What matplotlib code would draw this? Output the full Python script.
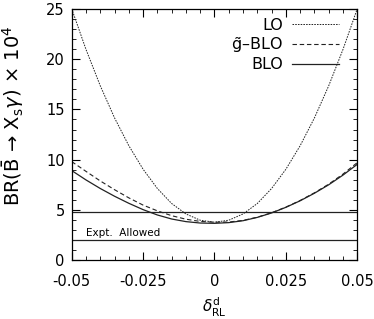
#!/usr/bin/env python3
# -*- coding: utf-8 -*-

import matplotlib
matplotlib.use("Agg")
import matplotlib.pyplot as plt
from matplotlib.ticker import MultipleLocator, FixedLocator, FixedFormatter

plt.rcParams.update(
    {
        "font.family": "DejaVu Sans",
        "mathtext.fontset": "dejavusans",
        "axes.unicode_minus": False,
        "xtick.direction": "in",
        "ytick.direction": "in",
        "xtick.top": True,
        "ytick.right": True,
    }
)

# DATA
delta = [-0.050, -0.045, -0.040, -0.035, -0.030, -0.025, -0.020, -0.015, -0.010, -0.005, 0.000,
         0.005, 0.010, 0.015, 0.020, 0.025, 0.030, 0.035, 0.040, 0.045, 0.050]

br_lo = [25.0, 20.96, 17.35, 14.16, 11.40, 9.06, 7.15, 5.66, 4.62, 4.00, 3.80,
         4.00, 4.62, 5.66, 7.15, 9.06, 11.40, 14.16, 17.35, 20.96, 25.0]

br_gblo = [9.82, 8.85, 7.90, 7.03, 6.22, 5.50, 4.93, 4.45, 4.10, 3.88, 3.80,
           3.82, 3.98, 4.30, 4.74, 5.30, 5.96, 6.72, 7.58, 8.58, 9.72]

br_blo = [8.93, 8.00, 7.15, 6.38, 5.68, 5.05, 4.52, 4.12, 3.86, 3.72, 3.69,
          3.76, 3.95, 4.28, 4.72, 5.28, 5.93, 6.68, 7.52, 8.48, 9.55]

expt_upper = 4.8
expt_lower = 2.0

xticks = [-0.05, -0.025, 0.0, 0.025, 0.05]
xtick_labels = ["-0.05", "-0.025", "0", "0.025", "0.05"]

# PLOT
fig = plt.figure(figsize=(3.74, 3.19), dpi=100)
ax = fig.add_axes([0.1917, 0.1834, 0.7636, 0.7893])

ax.plot(delta, br_lo, color="#222222", lw=0.7, dashes=(1.6, 1.2), label="LO")
ax.plot(delta, br_gblo, color="#222222", lw=0.8, dashes=(4.0, 2.5), label=r"$\tilde{\mathsf{g}}$–BLO")
ax.plot(delta, br_blo, color="#222222", lw=0.9, label="BLO")

ax.axhline(expt_upper, color="#222222", lw=0.9)
ax.axhline(expt_lower, color="#222222", lw=0.9)
ax.text(-0.045, 2.7, "Expt.  Allowed", fontsize=7.5, ha="left", va="center")

ax.set_xlim(-0.05, 0.05)
ax.set_ylim(0, 25)

ax.xaxis.set_major_locator(FixedLocator(xticks))
ax.xaxis.set_major_formatter(FixedFormatter(xtick_labels))
ax.xaxis.set_minor_locator(MultipleLocator(0.005))
ax.yaxis.set_major_locator(MultipleLocator(5))
ax.yaxis.set_minor_locator(MultipleLocator(1))
ax.tick_params(which="major", length=6, width=0.8, labelsize=10.5, pad=5)
ax.tick_params(axis="x", which="major", pad=10)
ax.tick_params(which="minor", length=3, width=0.6)
for s in ax.spines.values():
    s.set_linewidth(0.9)

ax.set_ylabel(r"BR($\bar{\mathsf{B}}$ → X$_{\mathsf{s}}\gamma$) × 10$^{\mathsf{4}}$", fontsize=14)
ax.yaxis.set_label_coords(-0.16, 0.574)
ax.set_xlabel(r"$\delta^{\mathsf{d}}_{\mathsf{RL}}$", fontsize=11)
ax.xaxis.set_label_coords(0.5, -0.14)

ax.legend(loc="upper right", bbox_to_anchor=(0.935, 0.965), frameon=False,
          markerfirst=False, fontsize=11.5, handlelength=2.9, handletextpad=0.6,
          labelspacing=0.15, borderaxespad=0, borderpad=0)

fig.savefig("out.png", dpi=100)
plt.close(fig)
